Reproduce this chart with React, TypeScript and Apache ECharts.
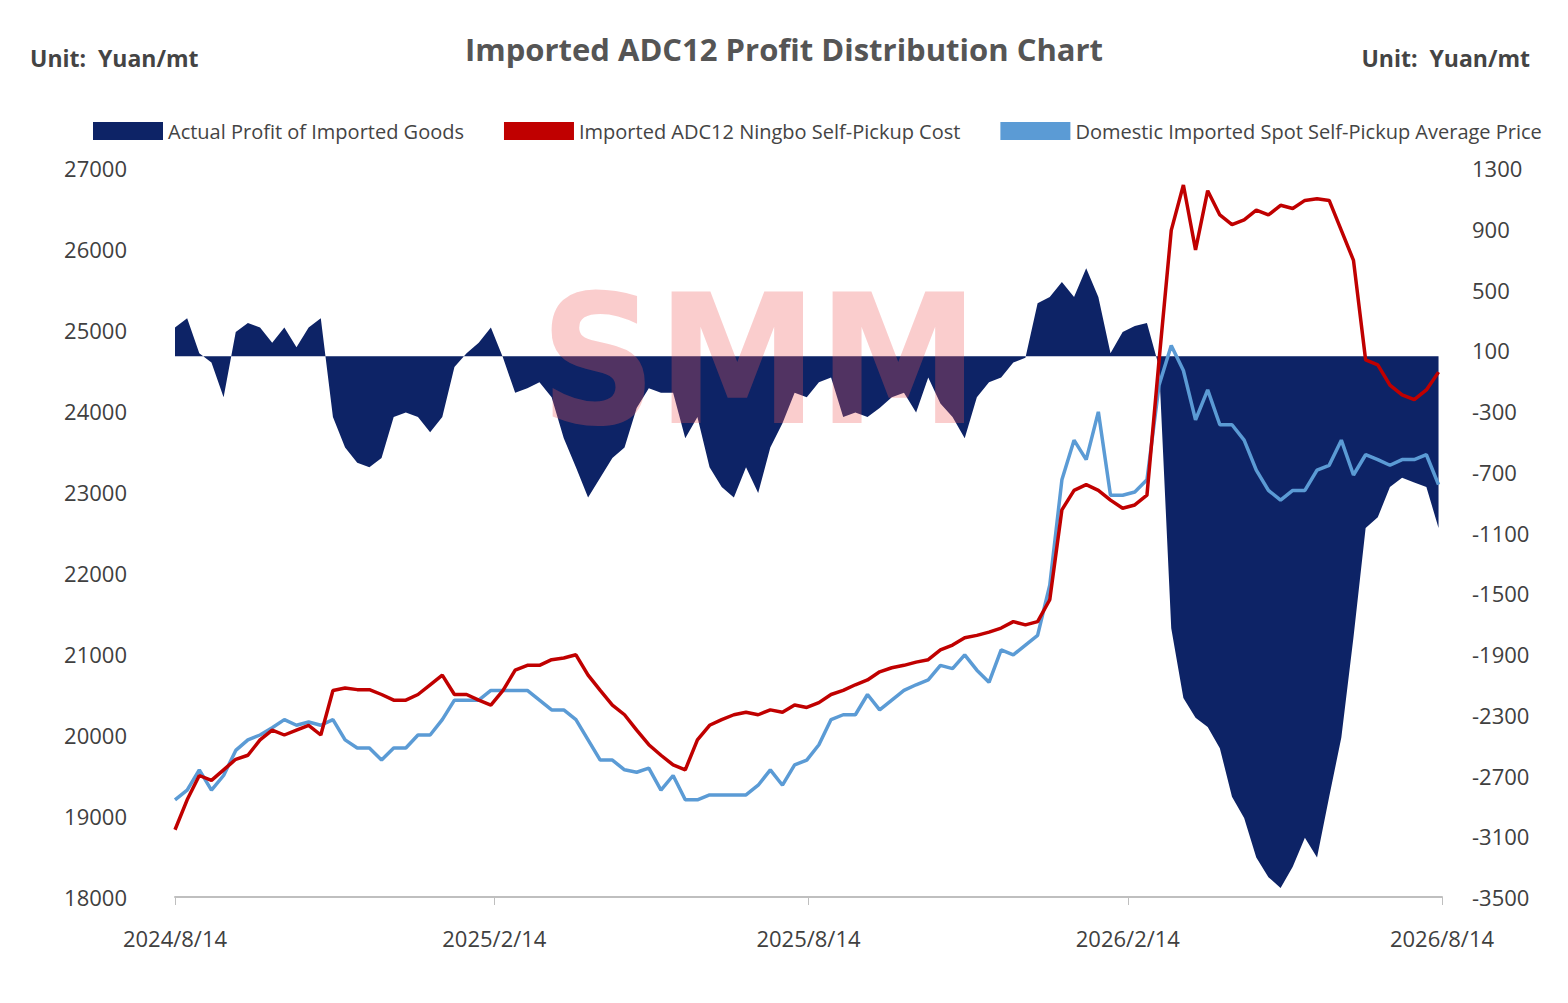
import React, { useEffect, useRef } from "react";
import * as echarts from "echarts";

// weekly samples starting 2024/8/14 (day offset = 7 * index)
const tickDays = [0, 184, 365, 549, 730];
const tickLabels = ["2024/8/14", "2025/2/14", "2025/8/14", "2026/2/14", "2026/8/14"];

const ningboCost = [
  18830, 19200, 19500, 19440, 19570, 19700, 19750, 19940, 20060, 20000,
  20060, 20120, 20000, 20550, 20580, 20560, 20560, 20500, 20430, 20430,
  20500, 20620, 20740, 20500, 20500, 20430, 20370, 20550, 20800, 20860,
  20860, 20930, 20950, 20990, 20740, 20550, 20370, 20250, 20060, 19880,
  19750, 19630, 19570, 19940, 20120, 20190, 20250, 20280, 20250, 20310,
  20280, 20370, 20340, 20400, 20500, 20550, 20620, 20680, 20780, 20830,
  20860, 20900, 20930, 21050, 21110, 21200, 21230, 21270, 21320, 21400,
  21360, 21400, 21670, 22780, 23020, 23090, 23020, 22900, 22800, 22840,
  22960, 24630, 26230, 26790, 25990, 26720, 26420, 26300, 26360, 26480,
  26420, 26540, 26500, 26600, 26620, 26600, 26230, 25860, 24630, 24570,
  24320, 24200, 24140, 24260, 24480,
];

const spotAvg = [
  19200, 19320, 19570, 19320, 19500, 19810, 19940, 20000, 20090, 20190,
  20120, 20160, 20120, 20190, 19940, 19840, 19840, 19690, 19840, 19840,
  20000, 20000, 20190, 20430, 20430, 20430, 20550, 20550, 20550, 20550,
  20430, 20310, 20310, 20190, 19940, 19690, 19690, 19570, 19540, 19590,
  19320, 19500, 19200, 19200, 19260, 19260, 19260, 19260, 19380, 19570,
  19380, 19630, 19690, 19880, 20190, 20250, 20250, 20500, 20310, 20430,
  20550, 20620, 20680, 20860, 20820, 20990, 20800, 20650, 21050, 20990,
  21110, 21230, 21850, 23150, 23640, 23400, 23990, 22960, 22960, 23000,
  23150, 24320, 24810, 24500, 23890, 24260, 23830, 23830, 23640, 23270,
  23020, 22900, 23020, 23020, 23270, 23330, 23640, 23210, 23460, 23400,
  23330, 23400, 23400, 23460, 23090,
];

const profit = [
  250, 310, 80, 20, -210, 220, 280, 250, 150, 250,
  120, 250, 310, -340, -540, -640, -670, -610, -340, -310,
  -340, -440, -340, -10, 80, 150, 250, 50, -180, -150,
  -110, -210, -480, -670, -870, -740, -610, -540, -280, -150,
  -180, -180, -480, -340, -670, -800, -870, -670, -840, -540,
  -380, -180, -210, -110, -80, -340, -310, -340, -280, -210,
  -180, -310, -80, -250, -340, -480, -210, -110, -80, 20,
  50, 410, 450, 550, 450, 640, 450, 80, 220, 260,
  280, -10, -1730, -2190, -2320, -2380, -2520, -2840, -2980, -3240,
  -3370, -3440, -3300, -3110, -3240, -2840, -2450, -1790, -1070, -1000,
  -800, -740, -770, -800, -1070,
];

const toPairs = (arr: number[]) => arr.map((v, i) => [i * 7, v]);

const App = () => {
  const chartRef = useRef<HTMLDivElement>(null);

  useEffect(() => {
    if (!chartRef.current) return;
    const chart = echarts.init(chartRef.current, null, { renderer: "svg" });
    const font = "Open Sans";
    const labelColor = "#404040";

    chart.setOption({
      animation: false,
      backgroundColor: "#fff",
      textStyle: { fontFamily: font },
      title: {
        text: "Imported ADC12 Profit Distribution Chart",
        left: "center",
        top: 20,
        textStyle: { fontSize: 31, fontWeight: "bold", color: "#555", fontFamily: font },
      },
      graphic: [
        { type: "text", left: 22, top: 38, style: { text: "Unit:  Yuan/mt", fontSize: 23, fontWeight: "bold", fill: "#444", fontFamily: font } },
        { type: "text", right: 30, top: 38, style: { text: "Unit:  Yuan/mt", fontSize: 23, fontWeight: "bold", fill: "#444", fontFamily: font } },
        {
          type: "text", left: 532, top: 262, z: 100,
          style: { text: "SMM", fontSize: 180, fontWeight: "bold", fill: "rgba(240,90,90,0.3)", fontFamily: "DejaVu Sans Condensed" },
        },
      ],
      legend: {
        top: 108,
        left: 80,
        itemWidth: 70,
        itemHeight: 18,
        itemGap: 40,
        textStyle: { fontSize: 20, color: "#444" },
        data: [
          { name: "Actual Profit of Imported Goods", icon: "rect" },
          { name: "Imported ADC12 Ningbo Self-Pickup Cost", icon: "rect", itemStyle: { color: "#c00000" } },
          { name: "Domestic Imported Spot Self-Pickup Average Price", icon: "rect", itemStyle: { color: "#5b9bd5" } },
        ],
      },
      grid: { left: 167, right: 118, top: 160, bottom: 98 },
      xAxis: {
        type: "value",
        min: 0,
        max: 730,
        splitLine: { show: false },
        axisLine: { onZero: false, lineStyle: { color: "#bfbfbf", width: 2 } },
        axisTick: { show: true, customValues: tickDays, length: 8, lineStyle: { color: "#bfbfbf" } },
        axisLabel: {
          customValues: tickDays,
          formatter: (v: number) => tickLabels[tickDays.indexOf(Math.round(v))] ?? "",
          fontSize: 22,
          color: labelColor,
          margin: 30,
          showMinLabel: true,
          showMaxLabel: true,
        },
      },
      yAxis: [
        {
          type: "value",
          min: 18000,
          max: 27000,
          interval: 1000,
          splitLine: { show: false },
          axisLine: { show: false },
          axisTick: { show: false },
          axisLabel: { fontSize: 22, color: labelColor, margin: 48, formatter: (v: number) => String(v) },
        },
        {
          type: "value",
          min: -3500,
          max: 1300,
          interval: 400,
          splitLine: { show: false },
          axisLine: { show: false },
          axisTick: { show: false },
          axisLabel: { fontSize: 22, color: labelColor, margin: 30, formatter: (v: number) => String(v) },
        },
      ],
      series: [
        {
          name: "Actual Profit of Imported Goods",
          type: "line",
          yAxisIndex: 1,
          data: toPairs(profit),
          showSymbol: false,
          lineStyle: { width: 0 },
          color: "#0d2366",
          areaStyle: { color: "#0d2366", opacity: 1, origin: 60 },
          z: 1,
        },
        {
          name: "Imported ADC12 Ningbo Self-Pickup Cost",
          type: "line",
          data: toPairs(ningboCost),
          showSymbol: false,
          color: "#c00000",
          lineStyle: { width: 3.5, color: "#c00000" },
          z: 3,
        },
        {
          name: "Domestic Imported Spot Self-Pickup Average Price",
          type: "line",
          data: toPairs(spotAvg),
          showSymbol: false,
          color: "#5b9bd5",
          lineStyle: { width: 3.5, color: "#5b9bd5" },
          z: 2,
        },
      ],
    });

    return () => chart.dispose();
  }, []);

  return <div ref={chartRef} style={{ width: 1552, height: 987 }} />;
};

export default App;
